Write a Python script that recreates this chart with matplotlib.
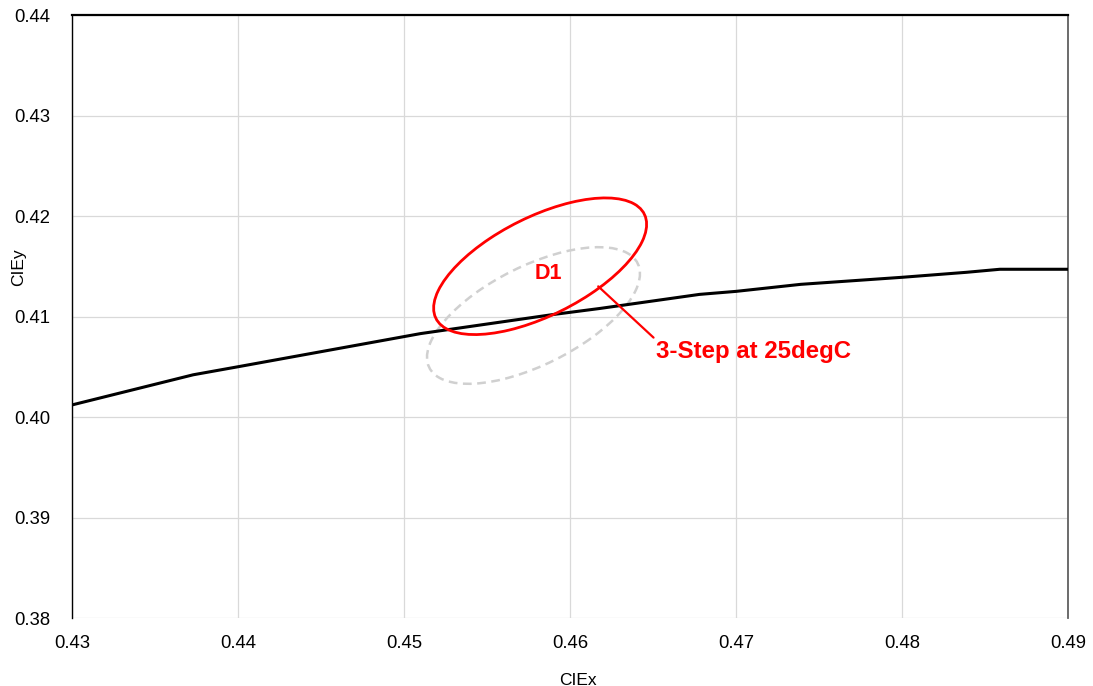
import matplotlib
matplotlib.use("Agg")
import matplotlib.pyplot as plt
from matplotlib.patches import Ellipse

plt.rcParams['font.family'] = ['Liberation Sans', 'DejaVu Sans']

# black locus line
locus_x = [0.430, 0.4373, 0.440, 0.451, 0.459, 0.4618, 0.4678, 0.470, 0.4739, 0.480, 0.4839, 0.4859, 0.490]
locus_y = [0.4012, 0.4042, 0.4050, 0.4083, 0.4102, 0.4108, 0.4122, 0.4125, 0.4132, 0.4139, 0.4144, 0.4147, 0.4147]

# 3-step ellipses: centre x, centre y, semi-axes a, b, rotation (deg)
ellipse_names = ['D1', 'reference']
ellipse_cx = [0.4582, 0.4578]
ellipse_cy = [0.4150, 0.4101]
ellipse_a = [0.0084, 0.0084]
ellipse_b = [0.0041, 0.0041]
ellipse_angle = [47.7, 47.7]

label_text = '3-Step at 25degC'
label_point = (0.4617, 0.4130)
label_pos = (0.4652, 0.4065)
d1_pos = (0.4587, 0.4143)

x_ticks = [0.43, 0.44, 0.45, 0.46, 0.47, 0.48, 0.49]
y_ticks = [0.38, 0.39, 0.40, 0.41, 0.42, 0.43, 0.44]

fig = plt.figure(figsize=(10.93, 6.86), dpi=100)
ax = fig.add_subplot(111)
fig.subplots_adjust(left=72/1093, right=1068/1093, top=1-15/686, bottom=1-618/686)

ax.set_xlim(0.43, 0.49)
ax.set_ylim(0.38, 0.44)
ax.set_xticks(x_ticks)
ax.set_yticks(y_ticks)
ax.set_xticklabels([f'{v:.2f}' for v in x_ticks])
ax.set_yticklabels([f'{v:.2f}' for v in y_ticks])
ax.tick_params(length=0, labelsize=13.3, colors='#000000')
ax.tick_params(axis='y', pad=15.5)
ax.tick_params(axis='x', pad=12.5)
ax.grid(True, color='#d9d9d9', linewidth=0.9)
ax.set_axisbelow(True)

ax.spines['bottom'].set_visible(False)
ax.spines['left'].set_color('black')
ax.spines['left'].set_linewidth(1.0)
ax.spines['top'].set_color('black')
ax.spines['top'].set_linewidth(1.6)
ax.spines['right'].set_color('#606060')
ax.spines['right'].set_linewidth(1.3)

# gray dashed ellipse
ax.add_patch(Ellipse((ellipse_cx[1], ellipse_cy[1]), 2 * ellipse_a[1], 2 * ellipse_b[1],
                     angle=ellipse_angle[1], fill=False, edgecolor='#d0d0d0',
                     linewidth=1.8, linestyle=(0, (3.5, 2.2)), zorder=2))

ax.plot(locus_x, locus_y, color='black', linewidth=2.2, zorder=3)

# red ellipse
ax.add_patch(Ellipse((ellipse_cx[0], ellipse_cy[0]), 2 * ellipse_a[0], 2 * ellipse_b[0],
                     angle=ellipse_angle[0], fill=False, edgecolor='#ff0000',
                     linewidth=2.0, zorder=4))

ax.text(d1_pos[0], d1_pos[1], ellipse_names[0], color='#ff0000', fontsize=15.5,
        fontweight='bold', ha='center', va='center', zorder=5)
ax.annotate(label_text, xy=label_point, xytext=label_pos, color='#ff0000',
            fontsize=17.3, fontweight='bold', ha='left', va='center', zorder=5,
            arrowprops=dict(arrowstyle='-', color='#ff0000', lw=1.6,
                            relpos=(0.0, 1.0), shrinkA=0, shrinkB=0))

ax.set_xlabel('CIEx', fontsize=12.5)
ax.set_ylabel('CIEy', fontsize=12.5)
ax.xaxis.set_label_coords(0.508, -0.091)
ax.yaxis.set_label_coords(-0.046, 0.582)

fig.savefig('out.png', dpi=100)
